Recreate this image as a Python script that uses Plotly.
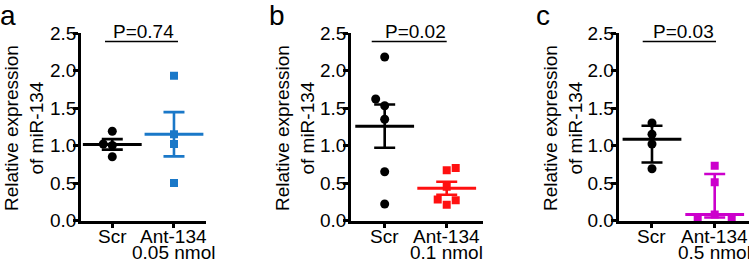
import numpy as np
import plotly.graph_objects as go

W, H = 749, 262
FONT = "Arial, Liberation Sans, sans-serif"
FS = 19

# ---------------- data ----------------
panel_letters = ["a", "b", "c"]
groups = ["Scr", "Ant-134"]
doses = ["0.05 nmol", "0.1 nmol", "0.5 nmol"]
p_values = ["P=0.74", "P=0.02", "P=0.03"]
y_title = "Relative expression<br>of miR-134"

scr_a = [1.19, 1.00, 1.02, 0.85]
ant_a = [1.93, 1.15, 1.02, 0.50]
scr_b = [2.18, 1.53, 1.62, 1.35, 0.65, 0.22]
ant_b = [0.67, 0.45, 0.21, 0.27, 0.28, 0.70]
scr_c = [1.30, 1.15, 1.02, 0.69]
ant_c = [0.73, 0.51, 0.08, 0.04, 0.04]

y_ticks = [0, 0.5, 1.0, 1.5, 2.0, 2.5]
y_tick_labels = ["0.0", "0.5", "1.0", "1.5", "2.0", "2.5"]

# ---------------- styles / layout ----------------
BLACK = "#000000"
BLUE = "#1a78c8"
RED = "#ff1010"
MAGENTA = "#cc00cc"

panels = [
    dict(data=[scr_a, ant_a], colors=[BLACK, BLUE], stat="sem",
         dom=(81, 206), xr=[-0.507, 1.519], spread=[9, 9], side=[-1, -1],
         bracket=(-0.118, 1.065), letter_x=8, title_x=24),
    dict(data=[scr_b, ant_b], colors=[BLACK, RED], stat="sem",
         dom=(351, 483), xr=[-0.543, 1.585], spread=[9, 9], side=[-1, 1],
         bracket=(-0.209, 1.0), letter_x=276.5, title_x=295),
    dict(data=[scr_c, ant_c], colors=[BLACK, MAGENTA], stat="iqr",
         dom=(618.5, 749), xr=[-0.534, 1.547], spread=[9, 17], side=[-1, -1],
         bracket=(-0.148, 1.021), letter_x=542.5, title_x=563),
]

Y_TOP_PX, Y_BOT_PX = 33.0, 220.5
yr = [0, 2.5]
px_per_y = (Y_BOT_PX - Y_TOP_PX) / (yr[1] - yr[0])


def swarm_offsets(vals, step, side, min_dist=9.0):
    """simple beeswarm: place points in order, shifting sideways on collision (px)."""
    placed = []
    offs = []
    cands = [0]
    for k in range(1, 6):
        cands += [side * k * step, -side * k * step]
    for v in vals:
        vy = v * px_per_y
        for c in cands:
            ok = all(np.hypot(c - px, vy - py) >= min_dist for px, py in placed)
            if ok:
                break
        placed.append((c, vy))
        offs.append(c)
    return offs


fig = go.Figure()
layout_axes = {}
annotations = []
shapes = []

for i, p in enumerate(panels):
    n = "" if i == 0 else str(i + 1)
    xa, ya = "x" + n, "y" + n
    x0px, x1px = p["dom"]
    px_per_x = (x1px - x0px) / (p["xr"][1] - p["xr"][0])

    for g, (vals, col) in enumerate(zip(p["data"], p["colors"])):
        arr = np.array(vals)
        if p["stat"] == "sem":
            center = arr.mean()
            err = arr.std(ddof=1) / np.sqrt(len(arr))
            up, dn = err, err
        else:
            center = np.median(arr)
            q1, q3 = np.percentile(arr, [25, 75], method="weibull")
            up, dn = q3 - center, center - q1
        # central line + error bar
        fig.add_trace(go.Scatter(
            x=[g], y=[center], xaxis=xa, yaxis=ya, mode="markers",
            marker=dict(symbol="line-ew", size=42, color=col,
                        line=dict(color=col, width=3)),
            error_y=dict(type="data", symmetric=False, array=[up], arrayminus=[dn],
                         color=col, thickness=2.6, width=10.5),
            showlegend=False, cliponaxis=False, hoverinfo="skip"))
        offs = swarm_offsets(vals, p["spread"][g], p["side"][g])
        fig.add_trace(go.Scatter(
            x=[g + o / px_per_x for o in offs], y=vals, xaxis=xa, yaxis=ya,
            mode="markers",
            marker=dict(symbol="circle" if g == 0 else "square",
                        size=9 if g == 0 else 8, color=col, line=dict(width=0)),
            showlegend=False, cliponaxis=False, hoverinfo="skip"))

    layout_axes["xaxis" + n] = dict(
        domain=[x0px / W, x1px / W], range=p["xr"], anchor=ya, automargin=False,
        tickmode="array", tickvals=[0, 1], showticklabels=False,
        showline=True, linecolor="black", linewidth=2.5,
        ticks="outside", ticklen=5, tickwidth=2.5, tickcolor="black",
        showgrid=False, zeroline=False, fixedrange=True)
    layout_axes["yaxis" + n] = dict(
        domain=[1 - Y_BOT_PX / H, 1 - Y_TOP_PX / H], range=yr, anchor=xa,
        automargin=False, ticklabelstandoff=-7,
        tickmode="array", tickvals=y_ticks, ticktext=y_tick_labels,
        showline=True, linecolor="black", linewidth=2.5,
        ticks="outside", ticklen=5, tickwidth=2.5, tickcolor="black",
        showgrid=False, zeroline=False,
        tickfont=dict(family=FONT, size=FS, color="black"), fixedrange=True)

    # category labels (two lines, tight spacing as in the reference)
    for g, lab in enumerate(groups):
        annotations.append(dict(
            text=lab, xref=xa, x=g, yref="paper", y=1 - 236.5 / H,
            yanchor="middle", xanchor="center", showarrow=False,
            font=dict(family=FONT, size=FS, color="black")))
    annotations.append(dict(
        text=doses[i], xref=xa, x=1, yref="paper", y=1 - 252.5 / H,
        yanchor="middle", xanchor="center", showarrow=False,
        font=dict(family=FONT, size=FS, color="black")))
    # y title
    annotations.append(dict(
        text=y_title, xref="paper", x=p["title_x"] / W, yref="paper",
        y=1 - 128 / H, textangle=-90, xanchor="center", yanchor="middle",
        showarrow=False, font=dict(family=FONT, size=FS, color="black")))
    # panel letter
    annotations.append(dict(
        text=panel_letters[i], xref="paper", x=p["letter_x"] / W, yref="paper",
        y=1 - 15 / H, xanchor="center", yanchor="middle", showarrow=False,
        font=dict(family=FONT, size=28, color="black")))
    # P value
    annotations.append(dict(
        text=p_values[i], xref=xa, x=0.5, yref="paper", y=1 - 32 / H,
        xanchor="center", yanchor="middle", showarrow=False,
        font=dict(family=FONT, size=FS, color="black")))
    shapes.append(dict(
        type="line", xref=xa, yref="paper", x0=p["bracket"][0], x1=p["bracket"][1],
        y0=1 - 41.5 / H, y1=1 - 41.5 / H, line=dict(color="black", width=1.3)))

fig.update_layout(
    width=W, height=H, autosize=False,
    margin=dict(l=0, r=0, t=0, b=0, pad=0, autoexpand=False),
    paper_bgcolor="white", plot_bgcolor="white",
    font=dict(family=FONT, size=FS, color="black"),
    annotations=annotations, shapes=shapes, showlegend=False,
    **layout_axes)

fig.write_html("out.html", config={"displayModeBar": False, "responsive": False},
               post_script="document.body.style.margin='0';"
                           "document.body.style.overflow='hidden';")
